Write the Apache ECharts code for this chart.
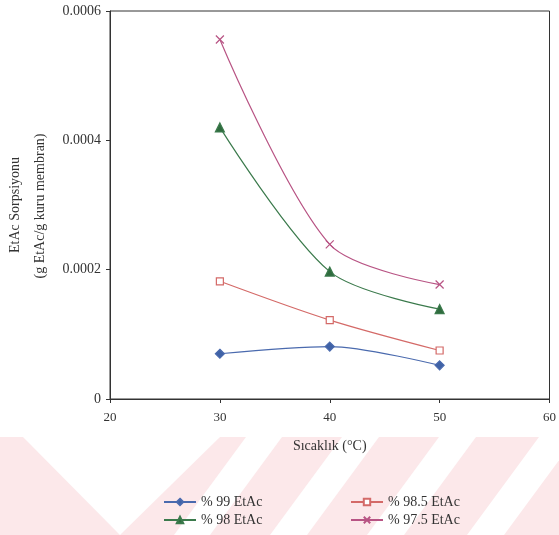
<!DOCTYPE html>
<html>
<head>
<meta charset="utf-8">
<script src="https://cdn.jsdelivr.net/npm/echarts@6/dist/echarts.min.js"></script>
<style>
    html, body { margin: 0; padding: 0; background: #fff; }
    #chart { width: 559px; height: 535px; }
</style>
</head>
<body>
<div id="chart"></div>
<script>
(function(){
    'use strict';
    // data
    var temps = [30, 40, 50];
    var etac99 = [0.000070, 0.000081, 0.000052];
    var etac985 = [0.000182, 0.000122, 0.000075];
    var etac98 = [0.000420, 0.000197, 0.000139];
    var etac975 = [0.000556, 0.000239, 0.000177];
    var seriesNames = ['% 99 EtAc', '% 98.5 EtAc', '% 98 EtAc', '% 97.5 EtAc'];
    var yTicks = [0, 0.0002, 0.0004, 0.0006];
    var xTicks = [20, 30, 40, 50, 60];

    var serif = '"Liberation Serif", "DejaVu Serif", serif';
    var myChart = echarts.init(document.getElementById('chart'));

    function pairs(vals){
        return temps.map(function(t, i){ return [t, vals[i]]; });
    }
    function mkSeries(name, vals, color, symbol, size, fill){
        return {
            name: name,
            type: 'line',
            smooth: 0.3,
            data: pairs(vals),
            symbol: symbol,
            symbolSize: size,
            lineStyle: {color: color, width: 1.2},
            itemStyle: {color: fill, borderColor: color, borderWidth: 1.2},
            emphasis: {disabled: true}
        };
    }

    // faint watermark band at the bottom
    var pink = '#fce8ea';
    var wm = [{
        type: 'rect', z: -10, silent: true,
        shape: {x: 0, y: 437, width: 559, height: 98},
        style: {fill: pink}
    }, {
        type: 'polygon', z: -9, silent: true,
        shape: {points: [[23, 437], [220, 437], [120, 535]]},
        style: {fill: '#fff'}
    }];
    [[246, 282], [342, 379], [439, 476], [539, 576]].forEach(function(s){
        wm.push({
            type: 'polygon', z: -9, silent: true,
            shape: {points: [[s[0], 437], [s[1], 437], [s[1] - 72, 535], [s[0] - 72, 535]]},
            style: {fill: '#fff'}
        });
    });

    var legendText = {fontFamily: serif, fontSize: 14, color: '#333'};
    var option = {
        backgroundColor: '#fff',
        animation: false,
        grid: {
            left: 110, right: 6, top: 11, bottom: 136,
            show: true, borderColor: '#333', borderWidth: 1
        },
        legend: [{
            data: [seriesNames[0], seriesNames[2]],
            orient: 'vertical',
            left: 163, top: 495, padding: 0,
            itemWidth: 32, itemHeight: 8, itemGap: 4,
            textStyle: legendText
        }, {
            data: [seriesNames[1], seriesNames[3]],
            orient: 'vertical',
            left: 350, top: 495, padding: 0,
            itemWidth: 32, itemHeight: 8, itemGap: 4,
            textStyle: legendText
        }],
        xAxis: {
            type: 'value',
            min: xTicks[0], max: xTicks[xTicks.length - 1], interval: 10,
            name: 'Sıcaklık (°C)',
            nameLocation: 'middle',
            nameGap: 40,
            nameTextStyle: {fontFamily: serif, fontSize: 14, color: '#333'},
            axisLine: {lineStyle: {color: '#333', width: 1}},
            axisTick: {show: true, length: 4, lineStyle: {color: '#333'}},
            axisLabel: {fontFamily: serif, fontSize: 13, color: '#333', margin: 12},
            splitLine: {show: false}
        },
        yAxis: {
            type: 'value',
            min: yTicks[0], max: yTicks[yTicks.length - 1], interval: 0.0002,
            axisLine: {show: true, lineStyle: {color: '#333', width: 1}},
            axisTick: {show: true, length: 4, lineStyle: {color: '#333'}},
            axisLabel: {
                fontFamily: serif, fontSize: 14, color: '#333', margin: 9,
                formatter: function(v){ return v === 0 ? '0' : v.toFixed(4); }
            },
            splitLine: {show: false}
        },
        graphic: wm.concat([{
            type: 'text', x: 15, y: 205, rotation: Math.PI / 2,
            style: {text: 'EtAc Sorpsiyonu', font: '14px ' + serif, fill: '#333',
                    align: 'center', verticalAlign: 'middle'}
        }, {
            type: 'text', x: 40, y: 206, rotation: Math.PI / 2,
            style: {text: '(g EtAc/g kuru membran)', font: '14px ' + serif, fill: '#333',
                    align: 'center', verticalAlign: 'middle'}
        }]),
        series: [
            mkSeries(seriesNames[0], etac99, '#4a6aae', 'diamond', 9, '#3f62a6'),
            mkSeries(seriesNames[1], etac985, '#d46a68', 'rect', 7, '#fff'),
            mkSeries(seriesNames[2], etac98, '#3b7a4c', 'triangle', 9, '#2f6b3e'),
            mkSeries(seriesNames[3], etac975, '#b85484', 'path://M0,0L10,10M10,0L0,10', 8, 'none')
        ]
    };
    myChart.setOption(option);
})();
</script>
</body>
</html>
